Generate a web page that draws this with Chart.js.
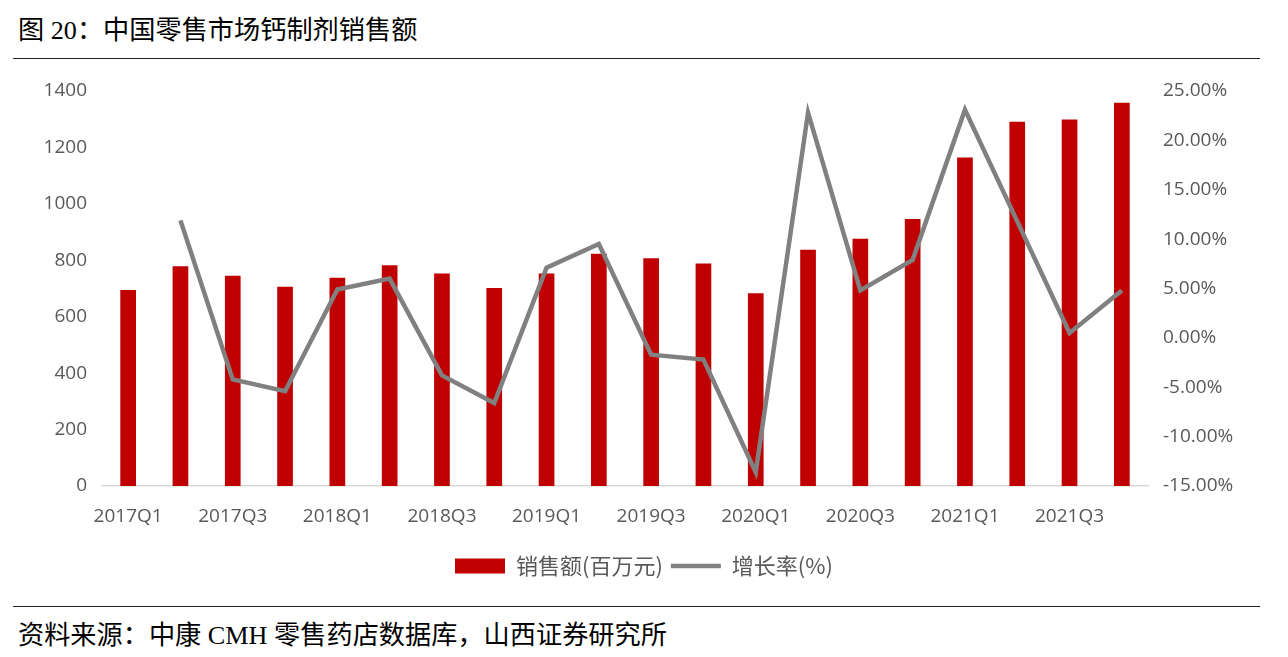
<!DOCTYPE html>
<html><head><meta charset="utf-8">
<script src="https://cdn.jsdelivr.net/npm/chart.js@4.4.0/dist/chart.umd.min.js"></script>
<style>
html,body{margin:0;padding:0;background:#fff;width:1288px;height:657px;overflow:hidden;}
.t{position:absolute;left:18px;font-family:"Liberation Serif","Noto Sans CJK SC",serif;font-size:26.2px;line-height:30px;color:#000;white-space:nowrap;}
.hl{position:absolute;left:13px;width:1247px;height:0;border-top:1.5px solid #222;}
#wrap{position:absolute;left:0;top:62px;width:1288px;height:540px;}
</style></head>
<body>
<div class="t" style="top:16px;">图 20：中国零售市场钙制剂销售额</div>
<div class="hl" style="top:58px;"></div>
<div id="wrap"><canvas id="c"></canvas></div>
<div class="hl" style="top:606px;"></div>
<div class="t" style="top:621px;">资料来源：中康 CMH 零售药店数据库，山西证券研究所</div>
<script>
const categories = ["2017Q1","2017Q2","2017Q3","2017Q4","2018Q1","2018Q2","2018Q3","2018Q4","2019Q1","2019Q2","2019Q3","2019Q4","2020Q1","2020Q2","2020Q3","2020Q4","2021Q1","2021Q2","2021Q3","2021Q4"];
const sales = [695,779,745,706,738,782,753,702,753,823,807,789,683,837,876,946,1164,1291,1299,1358];
const growth = [null,11.9,-4.2,-5.4,4.9,6.0,-3.8,-6.6,7.1,9.5,-1.7,-2.2,-13.6,22.8,4.8,7.9,23.1,11.8,0.5,4.8];
const salesLabel = "销售额(百万元)";
const growthLabel = "增长率(%)";

const tickFont = {family:"'Open Sans','Liberation Sans',sans-serif", size:19};
const tickColor = "#595959";

new Chart(document.getElementById('c'), {
  data: {
    labels: categories,
    datasets: [
      {type:'line', label:growthLabel, data:growth, yAxisID:'y1', borderColor:'#808080', backgroundColor:'#808080',
       borderWidth:4.5, pointRadius:0, tension:0, pointStyle:'line', order:0},
      {type:'bar', label:salesLabel, data:sales, yAxisID:'y', backgroundColor:'#C00000', borderWidth:0,
       barPercentage:0.3, categoryPercentage:1, pointStyle:'rect', order:1}
    ]
  },
  options: {
    responsive:true, maintainAspectRatio:false, animation:false,
    layout:{padding:{top:29,left:0,right:0,bottom:15}},
    plugins:{
      tooltip:{enabled:false},
      legend:{position:'bottom', reverse:true,
        labels:{usePointStyle:true, pointStyleWidth:50, boxWidth:50, boxHeight:15, padding:8,
          color:tickColor, font:{family:"'Noto Sans CJK SC',sans-serif", size:22}}}
    },
    scales:{
      x:{grid:{display:false, drawTicks:false}, border:{display:true,color:'#d9d9d9',width:1.5},
         ticks:{autoSkip:false, maxRotation:0, minRotation:0, padding:19, color:tickColor, font:tickFont,
           callback:function(v,i){return i%2===0?categories[i]:'';}},
         afterFit:function(s){s.height=61;}},
      y:{position:'left', min:0, max:1400, grid:{display:false,drawTicks:false}, border:{display:false},
         ticks:{stepSize:200, padding:15, color:tickColor, font:tickFont, callback:function(v){return String(v);}},
         afterFit:function(s){s.width=102;}},
      y1:{position:'right', min:-15, max:25, grid:{display:false,drawTicks:false}, border:{display:false},
         ticks:{stepSize:5, padding:15, color:tickColor, font:tickFont, callback:function(v){return v.toFixed(2)+'%';}},
         afterFit:function(s){s.width=140;}}
    }
  }
});
</script>
</body></html>
